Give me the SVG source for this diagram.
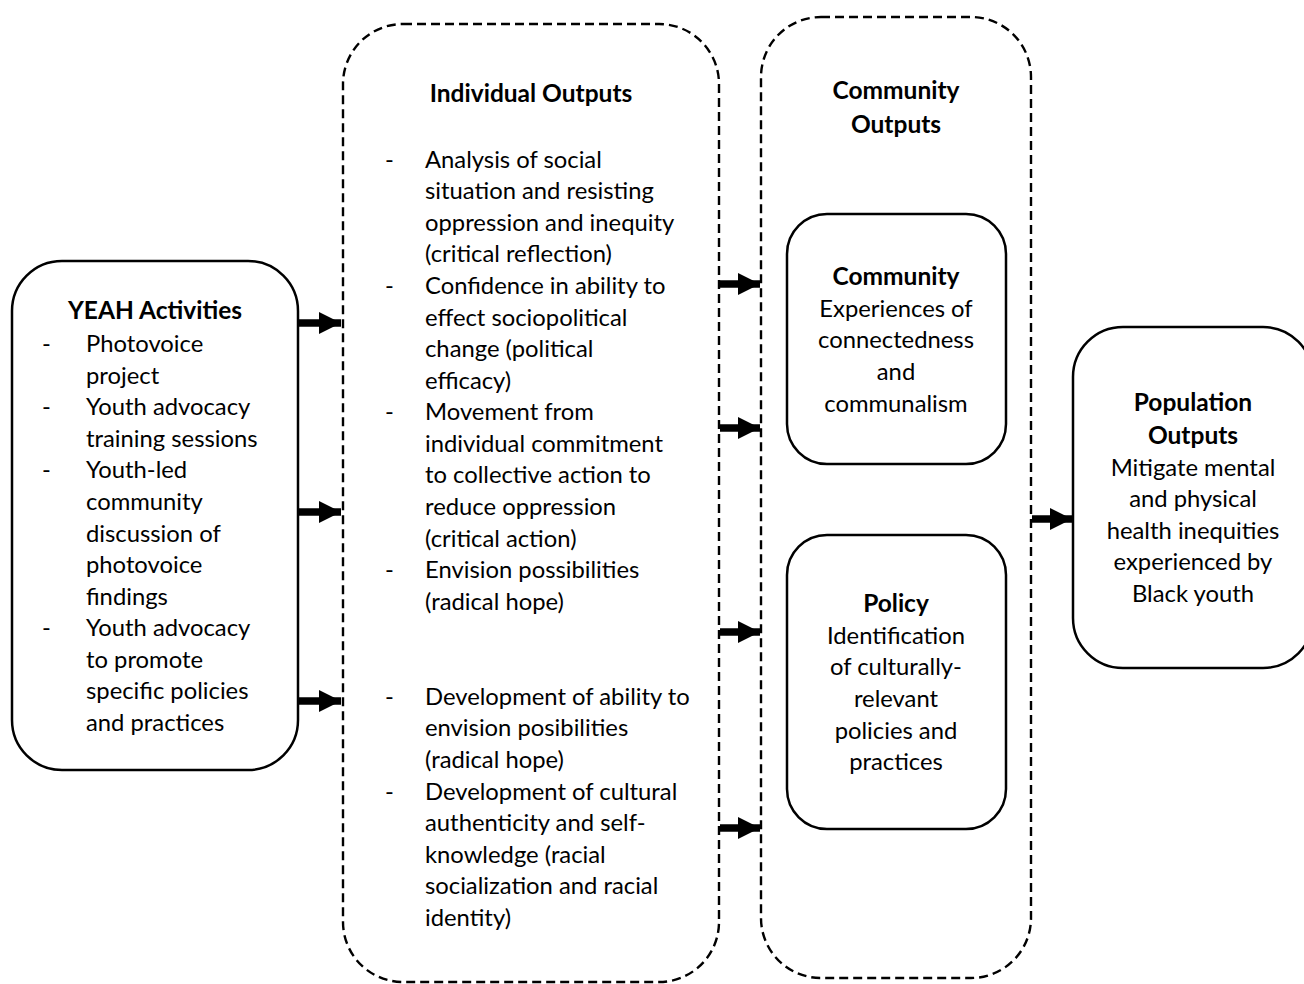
<svg xmlns="http://www.w3.org/2000/svg" width="1304" height="984" viewBox="0 0 1304 984">
<style>
text{font-family:Lato,"Liberation Sans",sans-serif;font-size:23.8px;fill:#000}
.b{font-weight:bold;font-size:24.5px}
.c{text-anchor:middle}
.box{fill:#fff;stroke:#000;stroke-width:2.5}
.dash{fill:none;stroke:#000;stroke-width:2.4;stroke-dasharray:9 5}
.arr{stroke:#000;stroke-width:7.5;fill:none;marker-end:url(#ah)}
</style>
<defs>
<marker id="ah" markerUnits="userSpaceOnUse" markerWidth="22" markerHeight="22" refX="22" refY="11" orient="auto">
<path d="M0,0 L22,11 L0,22 Z" fill="#000"/>
</marker>
</defs>
<rect width="1304" height="984" fill="#fff"/>
<g id="individual-outputs">
<rect class="dash" x="343" y="24" width="376" height="958" rx="60" ry="60"/>
<text class="b c" x="531" y="102">Individual Outputs</text>
<text x="385" y="168">-</text><text x="425" y="168">Analysis of social</text>
<text x="425" y="199">situation and resisting</text>
<text x="425" y="231">oppression and inequity</text>
<text x="425" y="262">(critical reflection)</text>
<text x="385" y="294">-</text><text x="425" y="294">Confidence in ability to</text>
<text x="425" y="326">effect sociopolitical</text>
<text x="425" y="357">change (political</text>
<text x="425" y="389">efficacy)</text>
<text x="385" y="420">-</text><text x="425" y="420">Movement from</text>
<text x="425" y="452">individual commitment</text>
<text x="425" y="483">to collective action to</text>
<text x="425" y="515">reduce oppression</text>
<text x="425" y="547">(critical action)</text>
<text x="385" y="578">-</text><text x="425" y="578">Envision possibilities</text>
<text x="425" y="610">(radical hope)</text>
<text x="385" y="705">-</text><text x="425" y="705">Development of ability to</text>
<text x="425" y="736">envision posibilities</text>
<text x="425" y="768">(radical hope)</text>
<text x="385" y="800">-</text><text x="425" y="800">Development of cultural</text>
<text x="425" y="831">authenticity and self-</text>
<text x="425" y="863">knowledge (racial</text>
<text x="425" y="894">socialization and racial</text>
<text x="425" y="926">identity)</text>
</g>
<g id="community-outputs">
<rect class="dash" x="761" y="17" width="270" height="961" rx="60" ry="60"/>
<text class="b c" x="896" y="99">Community</text>
<text class="b c" x="896" y="133">Outputs</text>
</g>
<g id="yeah-activities">
<rect class="box" x="12" y="261" width="286" height="509" rx="50" ry="50"/>
<text class="b c" x="155" y="319">YEAH Activities</text>
<text x="42" y="352">-</text><text x="86" y="352">Photovoice</text>
<text x="86" y="384">project</text>
<text x="42" y="415">-</text><text x="86" y="415">Youth advocacy</text>
<text x="86" y="447">training sessions</text>
<text x="42" y="478">-</text><text x="86" y="478">Youth-led</text>
<text x="86" y="510">community</text>
<text x="86" y="542">discussion of</text>
<text x="86" y="573">photovoice</text>
<text x="86" y="605">findings</text>
<text x="42" y="636">-</text><text x="86" y="636">Youth advocacy</text>
<text x="86" y="668">to promote</text>
<text x="86" y="699">specific policies</text>
<text x="86" y="731">and practices</text>
</g>
<g id="community">
<rect class="box" x="787" y="214" width="219" height="250" rx="40" ry="40"/>
<text class="b c" x="896" y="285">Community</text>
<text class="c" x="896" y="317">Experiences of</text>
<text class="c" x="896" y="348">connectedness</text>
<text class="c" x="896" y="380">and</text>
<text class="c" x="896" y="412">communalism</text>
</g>
<g id="policy">
<rect class="box" x="787" y="535" width="219" height="294" rx="40" ry="40"/>
<text class="b c" x="896" y="612">Policy</text>
<text class="c" x="896" y="644">Identification</text>
<text class="c" x="896" y="675">of culturally-</text>
<text class="c" x="896" y="707">relevant</text>
<text class="c" x="896" y="739">policies and</text>
<text class="c" x="896" y="770">practices</text>
</g>
<g id="population-outputs">
<rect class="box" x="1073" y="327" width="240" height="341" rx="50" ry="50"/>
<text class="b c" x="1193" y="411">Population</text>
<text class="b c" x="1193" y="444">Outputs</text>
<text class="c" x="1193" y="476">Mitigate mental</text>
<text class="c" x="1193" y="507">and physical</text>
<text class="c" x="1193" y="539">health inequities</text>
<text class="c" x="1193" y="570">experienced by</text>
<text class="c" x="1193" y="602">Black youth</text>
</g>
<g id="connectors">
<line class="arr" x1="299" y1="323" x2="341" y2="323"/>
<line class="arr" x1="299" y1="512" x2="341" y2="512"/>
<line class="arr" x1="299" y1="701" x2="341" y2="701"/>
<line class="arr" x1="720" y1="284" x2="760" y2="284"/>
<line class="arr" x1="720" y1="428" x2="760" y2="428"/>
<line class="arr" x1="720" y1="632" x2="760" y2="632"/>
<line class="arr" x1="720" y1="828" x2="760" y2="828"/>
<line class="arr" x1="1032" y1="519" x2="1072" y2="519"/>
</g>
</svg>
